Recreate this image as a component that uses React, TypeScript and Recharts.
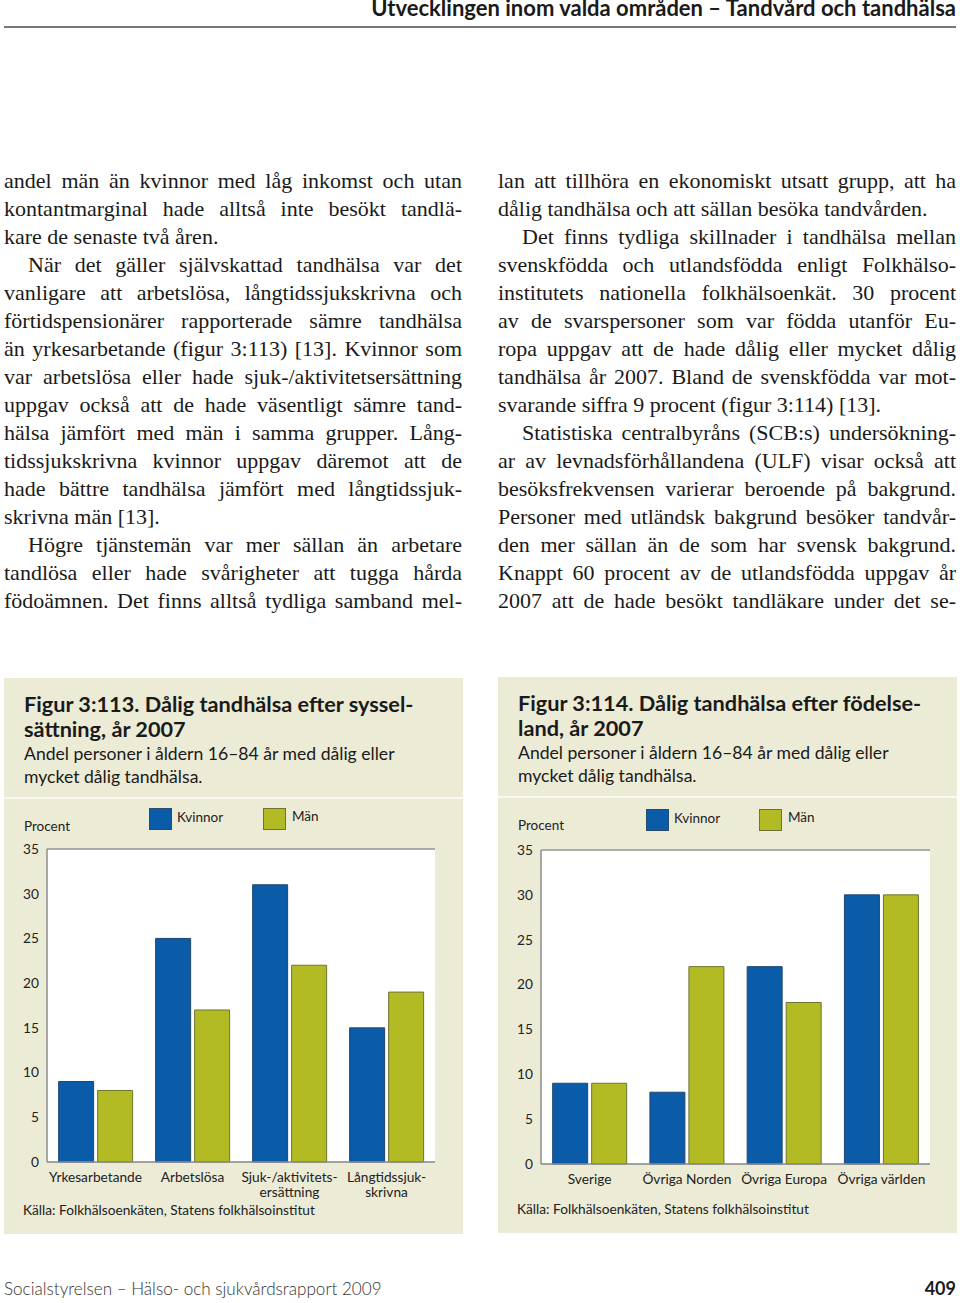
import React from "react";
import { BarChart, Bar, XAxis, YAxis, CartesianGrid, ReferenceLine } from "recharts";

const categories1 = ["Yrkesarbetande", "Arbetslösa", "Sjuk-/aktivitetsersättning", "Långtidssjukskrivna"];
const tickLabels1 = [["Yrkesarbetande"], ["Arbetslösa"], ["Sjuk-/aktivitets-", "ersättning"], ["Långtidssjuk-", "skrivna"]];
const kvinnor1 = [9, 25, 31, 15];
const man1 = [8, 17, 22, 19];

const categories2 = ["Sverige", "Övriga Norden", "Övriga Europa", "Övriga världen"];
const tickLabels2 = [["Sverige"], ["Övriga Norden"], ["Övriga Europa"], ["Övriga världen"]];
const kvinnor2 = [9, 8, 22, 30];
const man2 = [9, 22, 18, 30];

const yTicks = [0, 5, 10, 15, 20, 25, 30, 35];

const BLUE = "#0a5ca8";
const GREEN = "#b3bb24";
const BEIGE = "#ecebd6";
const SANS = "Lato, 'Open Sans', sans-serif";
const SERIF = "'Liberation Serif', 'DejaVu Serif', serif";

const leftLines = [
  "andel män än kvinnor med låg inkomst och utan",
  "kontantmarginal hade alltså inte besökt tandlä-",
  "kare de senaste två åren.",
  "När det gäller självskattad tandhälsa var det",
  "vanligare att arbetslösa, långtidssjukskrivna och",
  "förtidspensionärer rapporterade sämre tandhälsa",
  "än yrkesarbetande (figur 3:113) [13]. Kvinnor som",
  "var arbetslösa eller hade sjuk-/aktivitetsersättning",
  "uppgav också att de hade väsentligt sämre tand-",
  "hälsa jämfört med män i samma grupper. Lång-",
  "tidssjukskrivna kvinnor uppgav däremot att de",
  "hade bättre tandhälsa jämfört med långtidssjuk-",
  "skrivna män [13].",
  "Högre tjänstemän var mer sällan än arbetare",
  "tandlösa eller hade svårigheter att tugga hårda",
  "födoämnen. Det finns alltså tydliga samband mel-",
];
const leftIndent = [3, 13];
const leftEnds = [2, 12];

const rightLines = [
  "lan att tillhöra en ekonomiskt utsatt grupp, att ha",
  "dålig tandhälsa och att sällan besöka tandvården.",
  "Det finns tydliga skillnader i tandhälsa mellan",
  "svenskfödda och utlandsfödda enligt Folkhälso-",
  "institutets nationella folkhälsoenkät. 30 procent",
  "av de svarspersoner som var födda utanför Eu-",
  "ropa uppgav att de hade dålig eller mycket dålig",
  "tandhälsa år 2007. Bland de svenskfödda var mot-",
  "svarande siffra 9 procent (figur 3:114) [13].",
  "Statistiska centralbyråns (SCB:s) undersökning-",
  "ar av levnadsförhållandena (ULF) visar också att",
  "besöksfrekvensen varierar beroende på bakgrund.",
  "Personer med utländsk bakgrund besöker tandvår-",
  "den mer sällan än de som har svensk bakgrund.",
  "Knappt 60 procent av de utlandsfödda uppgav år",
  "2007 att de hade besökt tandläkare under det se-",
];
const rightIndent = [2, 9];
const rightEnds = [1, 8];

function Column({ x, lines, indent, ends }: { x: number; lines: string[]; indent: number[]; ends: number[] }) {
  return (
    <>
      {lines.map((t, i) => {
        const ind = indent.includes(i) ? 24 : 0;
        const isEnd = ends.includes(i);
        return (
          <div
            key={i}
            style={{
              position: "absolute",
              left: x + ind,
              top: 167 + 28 * i,
              width: 458 - ind,
              height: 28,
              lineHeight: "28px",
              fontFamily: SERIF,
              fontSize: 22,
              wordSpacing: isEnd ? 0 : -2,
              color: "#1a1a1a",
              textAlign: isEnd ? "left" : "justify",
              textAlignLast: isEnd ? "left" : "justify",
            } as React.CSSProperties}
          >
            {t}
          </div>
        );
      })}
    </>
  );
}

function MultiTick(props: any) {
  const { x, y, payload, labels } = props;
  const lines: string[] = labels[payload.index] || [payload.value];
  return (
    <text x={x} y={y} textAnchor="middle" fontFamily={SANS} fontSize={13.7} fill="#222">
      {lines.map((l, i) => (
        <tspan key={i} x={x} dy={i === 0 ? "0.85em" : "1.12em"}>
          {l}
        </tspan>
      ))}
    </text>
  );
}

type FigProps = {
  left: number;
  top: number;
  title: string[];
  subtitle: string[];
  categories: string[];
  tickLabels: string[][];
  kvinnor: number[];
  man: number[];
  plot: { l: number; r: number; t: number; b: number };
  legend: { k: number; m: number; y: number };
};

function Figure({ left, top, title, subtitle, categories, tickLabels, kvinnor, man, plot, legend }: FigProps) {
  const W = 459;
  const H = 556;
  const data = categories.map((c, i) => ({ name: c, kvinnor: kvinnor[i], man: man[i] }));
  const yW = 36;
  const xH = 40;
  return (
    <div style={{ position: "absolute", left, top, width: W, height: H, background: BEIGE }}>
      <div style={{ position: "absolute", left: 0, top: 119, width: W, height: 2, background: "#fafaf2" }} />
      <div style={{ position: "absolute", left: 20, top: 14, fontFamily: SANS, color: "#1a1a1a" }}>
        {title.map((t, i) => (
          <div key={i} style={{ fontWeight: 700, fontSize: 21.7, lineHeight: "25px", whiteSpace: "nowrap" }}>{t}</div>
        ))}
        {subtitle.map((t, i) => (
          <div key={i} style={{ fontSize: 17.6, lineHeight: "23px", whiteSpace: "nowrap" }}>{t}</div>
        ))}
      </div>
      <div style={{ position: "absolute", left: 20, top: 140, fontFamily: SANS, fontSize: 13.5, color: "#222" }}>Procent</div>
      <div style={{ position: "absolute", left: legend.k, top: legend.y, width: 23, height: 22, background: BLUE, border: "1px solid #2b4a6e", boxSizing: "border-box" }} />
      <div style={{ position: "absolute", left: legend.k + 28, top: legend.y + 1, fontFamily: SANS, fontSize: 13.5, color: "#222" }}>Kvinnor</div>
      <div style={{ position: "absolute", left: legend.m, top: legend.y, width: 23, height: 22, background: GREEN, border: "1px solid #6d7430", boxSizing: "border-box" }} />
      <div style={{ position: "absolute", left: legend.m + 29, top: legend.y, fontFamily: SANS, fontSize: 13.5, color: "#222" }}>Män</div>
      <div style={{ position: "absolute", left: 0, top: 0 }}>
        <BarChart
          width={W}
          height={H}
          data={data}
          margin={{ top: plot.t, right: W - plot.r, bottom: H - plot.b - xH, left: plot.l - yW }}
          barCategoryGap="12%"
          barGap={4}
        >
          <CartesianGrid vertical={false} stroke="#c9c9c9" fill="#ffffff" fillOpacity={1} />
          <XAxis
            dataKey="name"
            height={xH}
            tickLine={false}
            axisLine={{ stroke: "#8c8c8c", strokeWidth: 1.5 }}
            interval={0}
            tick={<MultiTick labels={tickLabels} />}
          />
          <YAxis
            yAxisId="l"
            width={yW}
            domain={[0, 35]}
            ticks={yTicks}
            tickLine={false}
            axisLine={{ stroke: "#8c8c8c", strokeWidth: 1.5 }}
            tick={{ fontFamily: SANS, fontSize: 13.7, fill: "#222" }}
          />
          <YAxis yAxisId="r" orientation="right" width={0} domain={[0, 35]} ticks={yTicks} tick={false} tickLine={false} axisLine={{ stroke: "#9a9a9a", strokeWidth: 1.5 }} />
          <ReferenceLine yAxisId="l" y={35} stroke="#9a9a9a" strokeWidth={1.5} />
          <Bar yAxisId="l" dataKey="kvinnor" fill={BLUE} stroke="#23466f" strokeWidth={1} isAnimationActive={false} />
          <Bar yAxisId="l" dataKey="man" fill={GREEN} stroke="#6d7430" strokeWidth={1} isAnimationActive={false} />
        </BarChart>
      </div>
      <div style={{ position: "absolute", left: 19, top: 523, fontFamily: SANS, fontSize: 13.7, color: "#222", whiteSpace: "nowrap" }}>
        Källa: Folkhälsoenkäten, Statens folkhälsoinstitut
      </div>
    </div>
  );
}

export default function App() {
  return (
    <div style={{ position: "absolute", left: 0, top: 0, width: 960, height: 1303, background: "#fff" }}>
      <div style={{ position: "absolute", right: 4, top: -3, lineHeight: "22px", fontFamily: SANS, fontWeight: 700, fontSize: 22, color: "#1a1a1a", whiteSpace: "nowrap" }}>
        Utvecklingen inom valda områden – Tandvård och tandhälsa
      </div>
      <div style={{ position: "absolute", left: 4, top: 26, width: 952, height: 1.5, background: "#777" }} />
      <Column x={4} lines={leftLines} indent={leftIndent} ends={leftEnds} />
      <Column x={498} lines={rightLines} indent={rightIndent} ends={rightEnds} />
      <Figure
        left={4}
        top={678}
        title={["Figur 3:113. Dålig tandhälsa efter syssel-", "sättning, år 2007"]}
        subtitle={["Andel personer i åldern 16–84 år med dålig eller", "mycket dålig tandhälsa."]}
        categories={categories1}
        tickLabels={tickLabels1}
        kvinnor={kvinnor1}
        man={man1}
        plot={{ l: 43, r: 431, t: 171, b: 484 }}
        legend={{ k: 145, m: 259, y: 130 }}
      />
      <Figure
        left={498}
        top={677}
        title={["Figur 3:114. Dålig tandhälsa efter födelse-", "land, år 2007"]}
        subtitle={["Andel personer i åldern 16–84 år med dålig eller", "mycket dålig tandhälsa."]}
        categories={categories2}
        tickLabels={tickLabels2}
        kvinnor={kvinnor2}
        man={man2}
        plot={{ l: 43, r: 432, t: 173, b: 487 }}
        legend={{ k: 148, m: 261, y: 132 }}
      />
      <div style={{ position: "absolute", left: 4, top: 1278, fontFamily: SANS, fontWeight: 300, fontSize: 17.1, color: "#333", whiteSpace: "nowrap" }}>
        Socialstyrelsen – Hälso- och sjukvårdsrapport 2009
      </div>
      <div style={{ position: "absolute", right: 4, top: 1277, fontFamily: SANS, fontWeight: 700, fontSize: 18, color: "#1a1a1a" }}>409</div>
    </div>
  );
}
